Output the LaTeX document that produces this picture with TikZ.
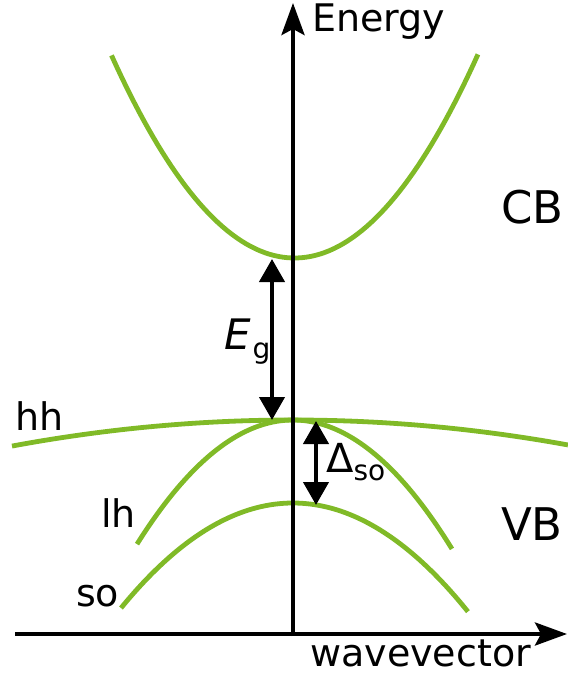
\documentclass[tikz,border=0pt]{standalone}
\usepackage{fontspec}
\setmainfont{DejaVu Sans}
\usetikzlibrary{arrows.meta}
\definecolor{band}{RGB}{128,186,39}
\begin{document}
\begin{tikzpicture}[x=1pt,y=-1pt,
  bandline/.style={band,line width=4.8pt},
  axisline/.style={black,line width=4.2pt,-{Stealth[length=32pt,width=23pt,inset=6pt]}},
  gaparrow/.style={black,line width=4.2pt,{Triangle[length=23pt,width=25pt]}-{Triangle[length=23pt,width=25pt]}},
  lbl/.style={inner sep=0pt,font=\fontsize{38}{42}\selectfont},
  biglbl/.style={inner sep=0pt,font=\fontsize{45}{50}\selectfont}]
\useasboundingbox (0,0) rectangle (568,678);
% coordinates
\coordinate (ytop) at (293,3);
\coordinate (ybot) at (293,636);
\coordinate (xleft) at (15,634);
\coordinate (xright) at (567,634);
\coordinate (cbmin) at (272,259);
\coordinate (vbtopL) at (272,420);
\coordinate (vbtopR) at (316,421);
\coordinate (somax) at (316,505);
% bands (x in units of 100pt)
\draw[bandline] plot[domain=-1.83:1.835,samples=80] ({294.5+100*\x},{258-60.5*\x*\x});
\draw[bandline] plot[domain=-2.81:2.75,samples=80] ({293+100*\x},{420+3.3*\x*\x});
\draw[bandline] plot[domain=-1.56:1.59,samples=80] ({293+100*\x},{420+51*\x*\x});
\draw[bandline] plot[domain=-1.72:1.75,samples=80] ({293+100*\x},{503+35.5*\x*\x});
% axes
\draw[axisline] (ybot) -- (ytop);
\draw[axisline] (xleft) -- (xright);
% gap arrows
\draw[gaparrow] (cbmin) -- (vbtopL);
\draw[gaparrow] (vbtopR) -- (somax);
% labels
\node[lbl,anchor=base west] (energy) at (312,31) {Energy};
\node[lbl,anchor=base west] (wv) at (310,666) {wavevector};
\node[biglbl,anchor=base west] (cb) at (501,223) {CB};
\node[biglbl,anchor=base west] (vb) at (501,540) {VB};
\node[lbl,anchor=base west] (hh) at (15,430) {hh};
\node[lbl,anchor=base west] (lh) at (101,527) {lh};
\node[lbl,anchor=base west] (so) at (76,606) {so};
\node[inner sep=0pt,anchor=base west,font=\fontsize{42}{46}\selectfont] (eg) at (224,349) {\itshape E\kern2pt\raisebox{-9pt}{\upshape\fontsize{28}{32}\selectfont g}};
\node[inner sep=0pt,anchor=base west,font=\fontsize{40}{44}\selectfont] (dso) at (326,472) {Δ\raisebox{-8pt}{\fontsize{28}{32}\selectfont so}};
\end{tikzpicture}
\end{document}
